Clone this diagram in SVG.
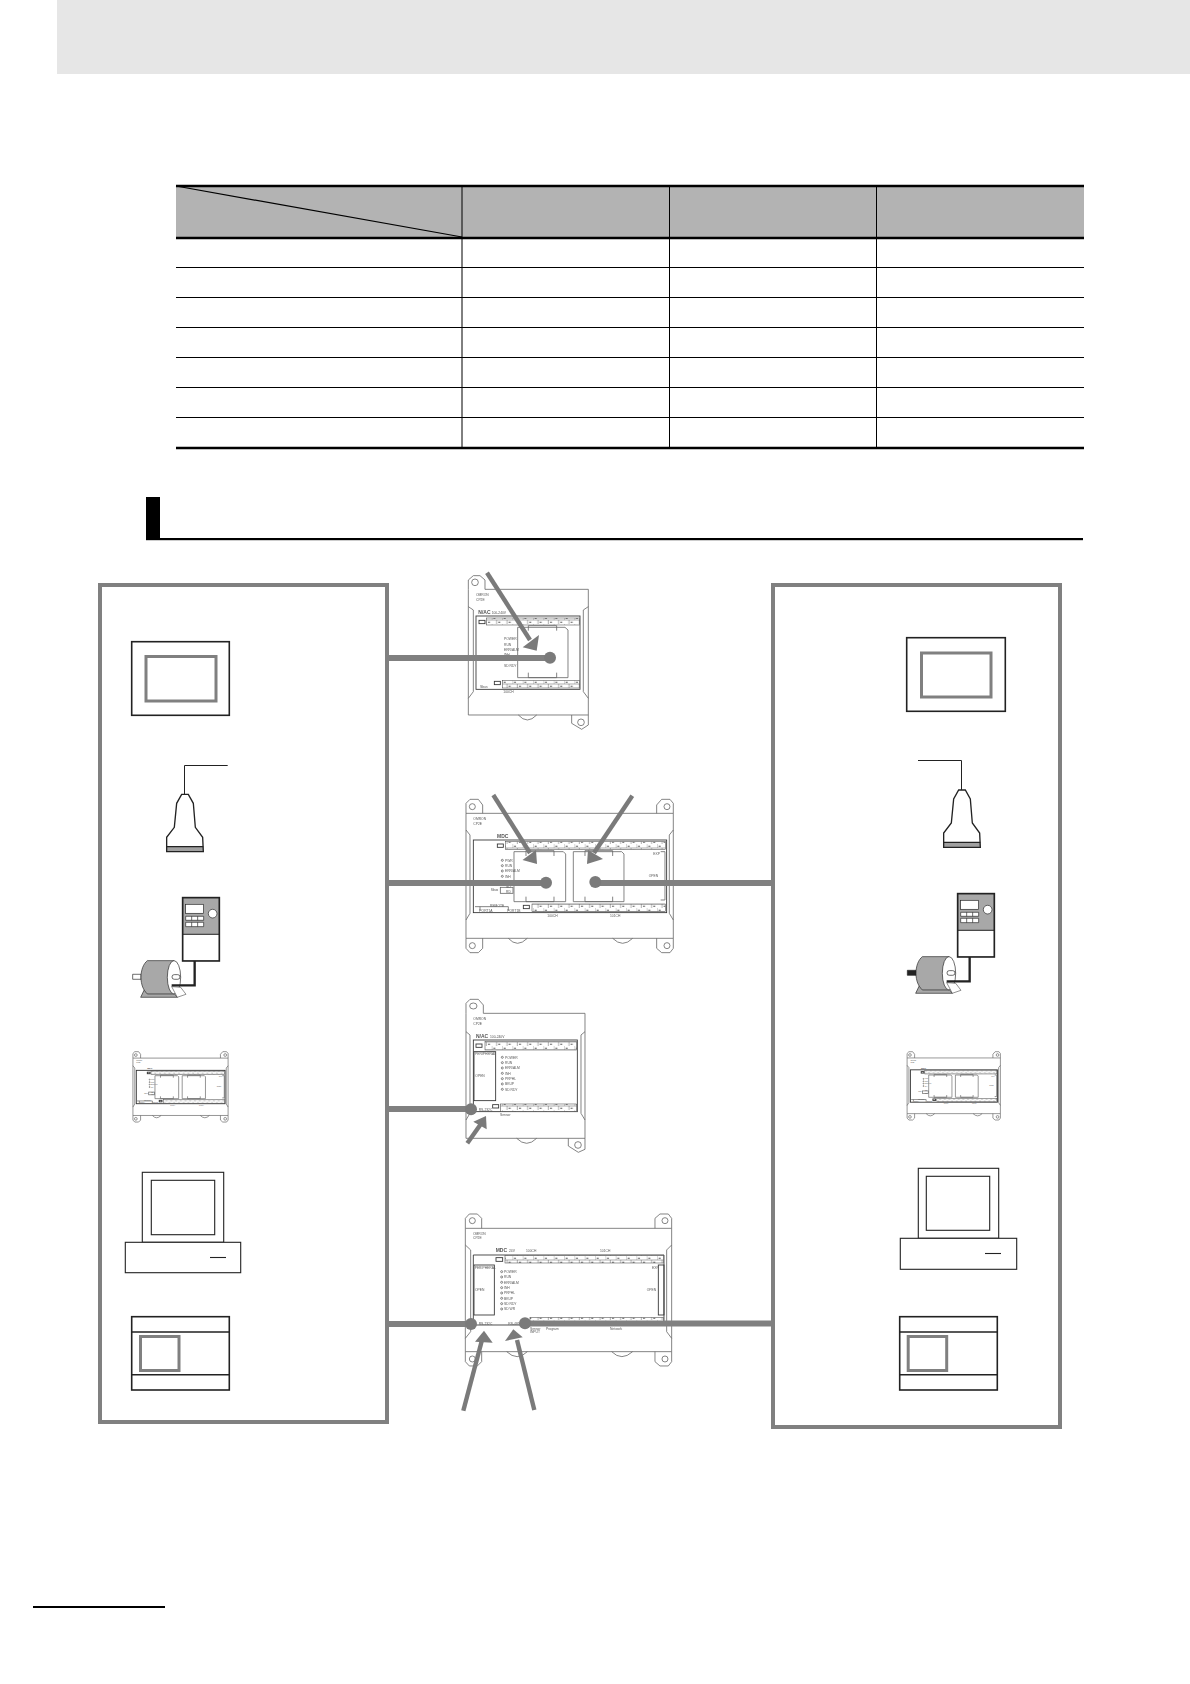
<svg xmlns="http://www.w3.org/2000/svg" xmlns:xlink="http://www.w3.org/1999/xlink" width="1190" height="1684" viewBox="0 0 1190 1684">
<style>
.box{fill:#fff;stroke:#808080;stroke-width:4}
.k{fill:none;stroke:#222;stroke-width:1.6}
.kw{fill:#fff;stroke:#222;stroke-width:1.6}
.g3{fill:none;stroke:#808080;stroke-width:3}
.pc{fill:#fff;stroke:#222;stroke-width:1.1}
.p{fill:none;stroke:#666;stroke-width:var(--w,2.4)}
.f{fill:none;stroke:#333;stroke-width:var(--f,2.6)}
.t{font-family:"Liberation Sans",Arial,sans-serif;font-size:10px;fill:#555}
.big{font-size:15px;font-weight:bold}
.th{fill:none;stroke:#000;stroke-width:2.4}
.tn{fill:none;stroke:#000;stroke-width:1}
.cn{fill:none;stroke:#808080;stroke-width:6}
.ar{fill:none;stroke:#7a7a7a;stroke-width:4.4}
.ah{fill:#7a7a7a}
.dot{fill:#7a7a7a}
.term{fill:url(#tb);stroke:#444;stroke-width:var(--t,1.6)}
</style>
<defs>
<filter id="soft" x="-5%" y="-5%" width="110%" height="110%"><feGaussianBlur stdDeviation="1"/></filter>
<pattern id="tb" width="31" height="24" patternUnits="userSpaceOnUse">
<rect width="31" height="24" fill="#fff"/>
<path d="M0 0V12M15 12V24M0 12H31" stroke="#666" stroke-width="1.6" fill="none"/>
<path d="M5 7h6M20 19h6" stroke="#555" stroke-width="3" fill="none"/>
</pattern>
<g id="plc60">
<path class="p" d="M78 100V70L90 58H115L128 75V100M650 100V75L665 58H690L700 70V100M78 100H700M78 100V475M700 100V475M78 475H700"/>
<path class="p" d="M78 475V505L90 518H115L128 505V475M650 475V505L665 518H690L700 505V475M205 475Q232 505 262 475M518 475Q548 505 578 475"/>
<circle class="p" cx="97" cy="80" r="9"/><circle class="p" cx="681" cy="80" r="9"/><circle class="p" cx="97" cy="497" r="9"/><circle class="p" cx="681" cy="497" r="9"/>
<path class="p" d="M78 150L90 165V400L78 420M700 150L688 165V400L700 420"/>
<rect class="f" x="100" y="180" width="580" height="218"/>
<rect class="term" x="196" y="185" width="480" height="23"/>
<rect class="term" x="276" y="372" width="400" height="23"/>
<rect class="f" x="172" y="192" width="18" height="10"/>
<rect class="f" x="250" y="376" width="18" height="10"/>
<path class="p" d="M222 215H370L377 222V365H222ZM400 215H545L552 222V365H400ZM662 215H675V360H662M105 380H205M120 380V392M205 380V392"/>
<path class="p" d="M258 228V212H342V228M258 350V365H342V350M435 228V212H518V228M435 350V365H518V350"/>
<circle class="p" cx="187" cy="241" r="3"/><circle class="p" cx="187" cy="257" r="3"/><circle class="p" cx="187" cy="273" r="3"/><circle class="p" cx="187" cy="289" r="3"/>
<rect class="p" x="181" y="322" width="38" height="18"/>
<text class="t" x="100" y="121">OMRON</text><text class="t" x="100" y="135">CP2E</text>
<text class="t big" x="171" y="174">MDC</text>
<text class="t" x="195" y="245">PWR</text><text class="t" x="195" y="261">RUN</text><text class="t" x="195" y="277">ERR/ALM</text><text class="t" x="195" y="293">INH</text>
<text class="t" x="152" y="332">Sbus</text><text class="t" x="198" y="325">SD</text><text class="t" x="198" y="340">RD</text>
<text class="t" x="150" y="382">REMOTE</text><text class="t" x="118" y="395">PORT1A</text><text class="t" x="202" y="395">PORT1B</text>
<text class="t" x="322" y="411">100CH</text><text class="t" x="510" y="411">101CH</text>
<text class="t" x="640" y="225">EXP</text><text class="t" x="626" y="292">OPEN</text>
</g>
<g id="scan">
<path d="M230 800H340V815H230Z" fill="#a0a0a0"/>
<path fill="none" stroke="#222" stroke-width="4" d="M275 643H295L310 670L316 742L338 772L340 815H230L230 772L253 742L260 670Z"/>
<path fill="none" stroke="#222" stroke-width="4" d="M230 800H340"/>
</g>
<g id="drv">
<rect x="278" y="953" width="110" height="190" fill="#fff"/>
<rect x="278" y="953" width="110" height="110" fill="#a8a8a8"/>
<path fill="none" stroke="#222" stroke-width="3" d="M278 1063H388"/>
<rect x="278" y="953" width="110" height="190" fill="none" stroke="#222" stroke-width="5"/>
<rect x="287" y="973" width="54" height="27" fill="#fff" stroke="#222" stroke-width="2"/>
<circle cx="368" cy="1001" r="13" fill="#fff" stroke="#222" stroke-width="2"/>
<path fill="#fff" stroke="#222" stroke-width="2" d="M287 1009H341V1021H287ZM287 1027H341V1040H287ZM305 1009V1021M323 1009V1021M305 1027V1040M323 1027V1040"/>
<path fill="#a8a8a8" stroke="#222" stroke-width="2" d="M165 1225H240L262 1252H152Z"/>
<path fill="#a8a8a8" stroke="#222" stroke-width="2" d="M172 1142H252V1242H172C160 1230 153 1215 153 1192C153 1170 160 1152 172 1142Z"/>
<ellipse cx="252" cy="1192" rx="20" ry="50" fill="#fff" stroke="#222" stroke-width="2"/>
<rect x="246" y="1184" width="24" height="14" rx="7" fill="#fff" stroke="#222" stroke-width="2"/>
<path fill="#fff" stroke="#222" stroke-width="1.5" d="M245 1220L272 1222L288 1243L262 1252Z"/>
<path fill="none" stroke="#222" stroke-width="7" d="M314 1143V1216H245"/>
</g>
</defs>
<rect id="header-band" x="57" y="0" width="1133" height="74" fill="#e6e6e6"/>
<g id="table">
<rect x="176" y="186" width="908" height="51" fill="#b3b3b3"/>
<path class="tn" d="M462 186V448M669.5 186V448M876.5 186V448M176 267.5H1084M176 297.5H1084M176 327.5H1084M176 357.5H1084M176 387.5H1084M176 417.5H1084"/>
<path fill="none" stroke="#000" stroke-width="1.2" d="M176 186L462 237"/>
<path class="th" d="M176 186H1084M176 238H1084M176 448H1084"/>
</g>
<g id="section-heading">
<rect x="146" y="497" width="14" height="43" fill="#000"/>
<rect x="146" y="538" width="937" height="2.2" fill="#000"/>
</g>
<g id="left-group">
<rect class="box" x="100" y="585" width="287" height="837"/>
</g>
<g id="right-group">
<rect class="box" x="773" y="585" width="287" height="842"/>
</g>
<g id="left-hmi"><rect class="kw" x="131.7" y="641.7" width="97.6" height="73.6"/><rect class="g3" x="146" y="656.5" width="70" height="44.5"/></g>
<g id="left-scanner"><path fill="none" stroke="#222" stroke-width="1" d="M227.7 765.5H184.5V794"/><use xlink:href="#scan" href="#scan" transform="translate(90 580) scale(.3333)"/></g>
<g id="left-drive"><path d="M128 1183H153V1198H128Z" transform="translate(90 580) scale(.3333)" fill="#fff" stroke="#222" stroke-width="2"/><use xlink:href="#drv" href="#drv" transform="translate(90 580) scale(.3333)"/></g>
<g id="left-plc" style="--w:4.5;--f:6;--t:3"><use xlink:href="#plc60" href="#plc60" transform="translate(121 1042.8) scale(.153)"/></g>
<g id="left-pc"><rect class="pc" x="142.3" y="1172.3" width="81.4" height="70"/><rect class="pc" x="151.3" y="1180.3" width="63.4" height="54.4"/><rect class="pc" x="125.3" y="1242.3" width="115.4" height="30.4"/><path class="pc" d="M210 1257.5H226"/></g>
<g id="left-ctrl"><rect class="kw" x="131.7" y="1316.7" width="97.6" height="73.3"/><path class="k" d="M131.7 1332H229.3M131.7 1374.7H229.3"/><rect class="g3" x="140.5" y="1336.5" width="38.5" height="34"/></g>
<g id="right-hmi"><rect class="kw" x="906.7" y="637.7" width="98.6" height="73.6"/><rect class="g3" x="921.5" y="653" width="69.5" height="44"/></g>
<g id="right-scanner"><path fill="none" stroke="#222" stroke-width="1" d="M918 760.5H961.5V790"/><use xlink:href="#scan" href="#scan" transform="translate(867 575.7) scale(.3333)"/></g>
<g id="right-drive"><path d="M127 1183H153V1198H127Z" transform="translate(865 576) scale(.3333)" fill="#222" stroke="#222" stroke-width="2"/><use xlink:href="#drv" href="#drv" transform="translate(865 576) scale(.3333)"/></g>
<g id="right-plc" style="--w:4.5;--f:6;--t:3"><use xlink:href="#plc60" href="#plc60" transform="translate(895.4 1043.1) scale(.15 .1485)"/></g>
<g id="right-pc"><rect class="pc" x="918.3" y="1168.3" width="80.4" height="70"/><rect class="pc" x="926.3" y="1176.3" width="63.4" height="54"/><rect class="pc" x="900.3" y="1238.3" width="116.4" height="31"/><path class="pc" d="M985 1253.5H1001"/></g>
<g id="right-ctrl"><rect class="kw" x="899.7" y="1316.7" width="97.6" height="73.3"/><path class="k" d="M899.7 1332H997.3M899.7 1374.7H997.3"/><rect class="g3" x="908.2" y="1336.5" width="38.5" height="34"/></g>
<g id="cpu-a" filter="url(#soft)" transform="translate(440 560) scale(.3333)">
<path class="p" d="M85 88V60L100 47H120L135 60V88M135 88H445V465M85 88V465H445M395 465V490L425 508L445 495V465M235 465Q262 495 290 465"/>
<circle class="p" cx="105" cy="67" r="10"/><circle class="p" cx="423" cy="487" r="10"/>
<path class="p" d="M85 140L100 150V395L85 415M445 140L430 150V395L445 415"/>
<rect class="f" x="108" y="168" width="312" height="220"/>
<rect class="term" x="140" y="174" width="278" height="21"/>
<rect class="term" x="188" y="362" width="230" height="22"/>
<rect class="f" x="117" y="181" width="18" height="10"/>
<rect class="f" x="163" y="364" width="18" height="10"/>
<path class="p" d="M233 202H375L384 210V353H233ZM265 212V197H350V212M265 338V353H350V338"/>
<text class="t" x="108" y="109">OMRON</text><text class="t" x="108" y="124">CP2E</text>
<text class="t big" x="115" y="163">N/AC</text><text class="t" x="155" y="162">100-240V</text>
<text class="t" x="192" y="241">POWER</text><text class="t" x="192" y="257">RUN</text><text class="t" x="192" y="273">ERR/ALM</text><text class="t" x="192" y="289">INH</text><text class="t" x="192" y="320">SD RDY</text>
<text class="t" x="120" y="384">Sbus</text><text class="t" x="190" y="399">100CH</text>
</g>
<g id="cpu-b" filter="url(#soft)" transform="translate(440 780) scale(.3333)"><use xlink:href="#plc60" href="#plc60"/></g>
<g id="cpu-c" filter="url(#soft)" transform="translate(440 990) scale(.3333)">
<path class="p" d="M78 70V40L90 28H115L130 45V70M130 70H435V445M78 70V445H435M385 445V468L415 487L435 478V445M230 445Q260 475 290 445"/>
<ellipse class="p" cx="100" cy="48" rx="11" ry="9"/><circle class="p" cx="414" cy="465" r="10"/>
<path class="p" d="M78 125L90 135V370L78 390M435 125L423 135V370L435 390"/>
<rect class="f" x="100" y="150" width="312" height="215"/>
<rect class="term" x="135" y="155" width="275" height="25"/>
<rect class="term" x="182" y="342" width="228" height="22"/>
<rect class="f" x="108" y="162" width="18" height="10"/><rect class="f" x="158" y="344" width="18" height="10"/>
<rect class="f" x="102" y="185" width="65" height="147"/>
<circle class="p" cx="187" cy="202" r="3"/><circle class="p" cx="187" cy="218" r="3"/><circle class="p" cx="187" cy="234" r="3"/><circle class="p" cx="187" cy="250" r="3"/><circle class="p" cx="187" cy="266" r="3"/><circle class="p" cx="187" cy="282" r="3"/><circle class="p" cx="187" cy="298" r="3"/>
<text class="t" x="100" y="90">OMRON</text><text class="t" x="100" y="104">CP2E</text>
<text class="t big" x="108" y="143">N/AC</text><text class="t" x="150" y="143">100-240V</text>
<text class="t" x="105" y="195">PERIPHERAL</text><text class="t" x="106" y="261">OPEN</text>
<text class="t" x="195" y="206">POWER</text><text class="t" x="195" y="222">RUN</text><text class="t" x="195" y="238">ERR/ALM</text><text class="t" x="195" y="254">INH</text><text class="t" x="195" y="270">PRPHL</text><text class="t" x="195" y="286">BKUP</text><text class="t" x="195" y="302">SD RDY</text>
<text class="t" x="116" y="362">RS-232C</text><text class="t" x="180" y="378">Sensor</text>
</g>
<g id="cpu-d" filter="url(#soft)" transform="translate(440 1200) scale(.3333)">
<path class="p" d="M76 85V55L88 42H112L125 55V85M645 85V55L660 42H685L695 55V85M76 85H695V455M76 85V455H695M76 455V485L88 498H112L125 485V455M645 455V485L660 498H685L695 485V455M200 455Q232 485 262 455M515 455Q545 485 578 455"/>
<circle class="p" cx="97" cy="62" r="9"/><circle class="p" cx="675" cy="62" r="9"/><circle class="p" cx="97" cy="477" r="9"/><circle class="p" cx="675" cy="477" r="9"/>
<path class="p" d="M76 135L92 150V395L76 415M695 135L680 150V395L695 415"/>
<path class="f" d="M100 165V375H672V165Z"/>
<rect class="term" x="195" y="167" width="475" height="22"/>
<rect class="term" x="270" y="352" width="400" height="23"/>
<rect class="f" x="168" y="173" width="20" height="11"/>
<rect class="f" x="102" y="195" width="61" height="150"/>
<rect class="f" x="655" y="195" width="17" height="150"/>
<circle class="p" cx="185" cy="215" r="3"/><circle class="p" cx="185" cy="231" r="3"/><circle class="p" cx="185" cy="247" r="3"/><circle class="p" cx="185" cy="263" r="3"/><circle class="p" cx="185" cy="279" r="3"/><circle class="p" cx="185" cy="295" r="3"/><circle class="p" cx="185" cy="311" r="3"/><circle class="p" cx="185" cy="327" r="3"/>
<text class="t" x="99" y="104">OMRON</text><text class="t" x="99" y="118">CP2E</text>
<text class="t big" x="167" y="156">MDC</text><text class="t" x="207" y="156">24V</text><text class="t" x="258" y="156">100CH</text><text class="t" x="480" y="156">101CH</text>
<text class="t" x="104" y="208">PERIPHERAL</text><text class="t" x="105" y="273">OPEN</text>
<text class="t" x="192" y="219">POWER</text><text class="t" x="192" y="235">RUN</text><text class="t" x="192" y="251">ERR/ALM</text><text class="t" x="192" y="267">INH</text><text class="t" x="192" y="283">PRPHL</text><text class="t" x="192" y="299">BKUP</text><text class="t" x="192" y="315">SD RDY</text><text class="t" x="192" y="331">SD WR</text>
<text class="t" x="636" y="206">EXP</text><text class="t" x="620" y="274">OPEN</text>
<text class="t" x="116" y="375">RS-232C</text><text class="t" x="205" y="375">RS-485</text>
<text class="t" x="270" y="390">Sensor</text><text class="t" x="270" y="400">INPUT</text><text class="t" x="318" y="390">Program</text><text class="t" x="510" y="390">Network</text>
</g>
<g id="connectors">
<path class="cn" d="M389 658H550"/><circle class="dot" cx="550" cy="657.7" r="6"/>
<path class="ar" d="M487 572.7L530 640"/><path class="ah" d="M539 635L522.7 647.3L536.7 650.7Z"/>
<path class="cn" d="M389 883H546"/><circle class="dot" cx="546" cy="882.7" r="6"/>
<path class="cn" d="M595 883H773"/><circle class="dot" cx="595.3" cy="882" r="6"/>
<path class="ar" d="M493.3 795L530 853"/><path class="ah" d="M536 850L522.5 860L537 864Z"/>
<path class="ar" d="M632.3 795.7L594 853"/><path class="ah" d="M588 850L603 859L587 864Z"/>
<path class="cn" d="M389 1109H471"/><circle class="dot" cx="471" cy="1109.3" r="6"/>
<path class="ar" d="M467.3 1143.3L483 1121"/><path class="ah" d="M486 1116L473.3 1121.7L486.7 1129.3Z"/>
<path class="cn" d="M389 1324H471"/><circle class="dot" cx="471" cy="1324" r="6"/>
<path class="cn" d="M525 1323.5H773"/><circle class="dot" cx="525" cy="1323.3" r="6"/>
<path class="ar" d="M463.3 1410.7L482 1340"/><path class="ah" d="M484 1330.7L475 1341.7L492.7 1342.7Z"/>
<path class="ar" d="M534.3 1410L517 1340"/><path class="ah" d="M513.3 1329.3L505 1341L522.7 1337.3Z"/>
</g>
<rect id="footer-rule" x="33" y="1606" width="132" height="2" fill="#000"/>
</svg>
